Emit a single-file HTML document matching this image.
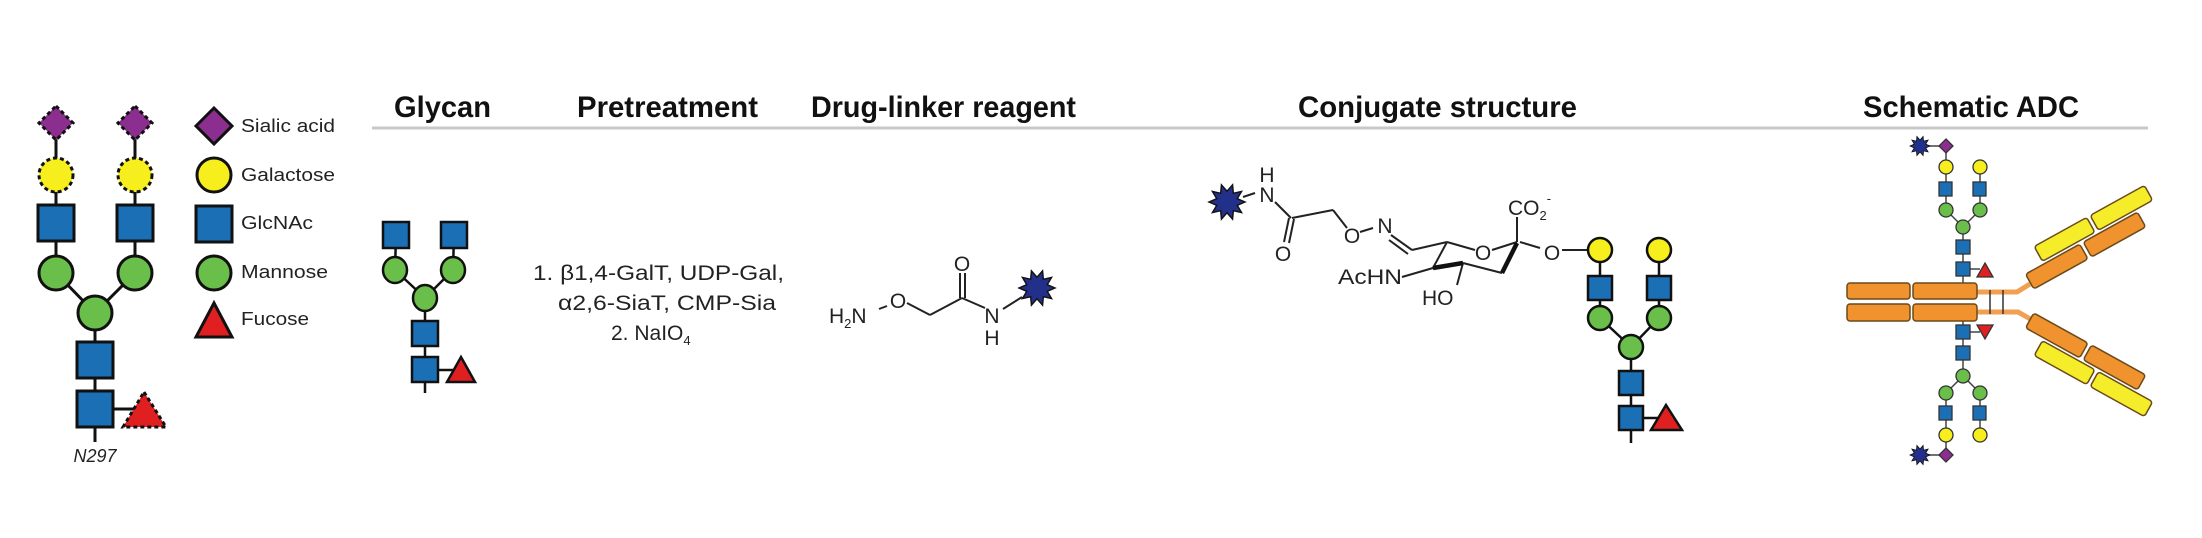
<!DOCTYPE html>
<html><head><meta charset="utf-8"><style>
html,body{margin:0;padding:0;background:#fff}
svg{display:block}
text{font-family:"Liberation Sans",sans-serif;fill:#222}
.h{font-weight:bold;font-size:30px;fill:#111}
.t{font-size:21px}
.lg{font-size:18px}
</style></head><body>
<svg width="2202" height="538" viewBox="0 0 2202 538" xmlns="http://www.w3.org/2000/svg">
<defs>
<polygon id="star" points="10,0 5.71,1.85 8.09,5.88 3.53,4.85 3.09,9.51 0,6 -3.09,9.51 -3.53,4.85 -8.09,5.88 -5.71,1.85 -10,0 -5.71,-1.85 -8.09,-5.88 -3.53,-4.85 -3.09,-9.51 0,-6 3.09,-9.51 3.53,-4.85 8.09,-5.88 5.71,-1.85" fill="#23308a" stroke="#111" stroke-width="0.8"/>
</defs>

<!-- headers -->
<line x1="372" y1="128" x2="2148" y2="128" stroke="#c8c8c8" stroke-width="3"/>
<text class="h" x="394" y="117" textLength="97" lengthAdjust="spacingAndGlyphs">Glycan</text>
<text class="h" x="577" y="117" textLength="181" lengthAdjust="spacingAndGlyphs">Pretreatment</text>
<text class="h" x="811" y="117" textLength="265" lengthAdjust="spacingAndGlyphs">Drug-linker reagent</text>
<text class="h" x="1298" y="117" textLength="279" lengthAdjust="spacingAndGlyphs">Conjugate structure</text>
<text class="h" x="1863" y="117" textLength="216" lengthAdjust="spacingAndGlyphs">Schematic ADC</text>

<!-- big glycan -->
<g stroke="#111" stroke-width="3">
<line x1="56" y1="123" x2="56" y2="273"/><line x1="135" y1="123" x2="135" y2="273"/>
<line x1="56" y1="273" x2="95" y2="313"/><line x1="135" y1="273" x2="95" y2="313"/>
<line x1="95" y1="313" x2="95" y2="442"/><line x1="95" y1="409" x2="140" y2="409"/>
<polygon points="56,106 73,123 56,140 39,123" fill="#8b2e8f" stroke-dasharray="4,3"/>
<polygon points="135,106 152,123 135,140 118,123" fill="#8b2e8f" stroke-dasharray="4,3"/>
<circle cx="56" cy="175" r="17" fill="#f7ee1e" stroke-dasharray="4,3"/>
<circle cx="135" cy="175" r="17" fill="#f7ee1e" stroke-dasharray="4,3"/>
<rect x="38" y="205" width="36" height="36" fill="#1a6fb5"/>
<rect x="117" y="205" width="36" height="36" fill="#1a6fb5"/>
<circle cx="56" cy="273" r="17" fill="#6abf4b"/><circle cx="135" cy="273" r="17" fill="#6abf4b"/>
<circle cx="95" cy="313" r="17" fill="#6abf4b"/>
<rect x="77" y="342" width="36" height="36" fill="#1a6fb5"/>
<rect x="77" y="391" width="36" height="36" fill="#1a6fb5"/>
<polygon points="144,392 166,427 123,427" fill="#e02020" stroke-dasharray="4,3"/>
</g>
<text x="95" y="462" font-size="18" font-style="italic" text-anchor="middle">N297</text>

<!-- legend -->
<g stroke="#111" stroke-width="3">
<polygon points="214,108 232,126 214,144 196,126" fill="#8b2e8f"/>
<circle cx="214" cy="175" r="17" fill="#f7ee1e"/>
<rect x="196" y="206" width="36" height="36" fill="#1a6fb5"/>
<circle cx="214" cy="273" r="17" fill="#6abf4b"/>
<polygon points="214,303 232,337 196,337" fill="#e02020"/>
</g>
<text class="lg" x="241" y="132" textLength="94" lengthAdjust="spacingAndGlyphs">Sialic acid</text>
<text class="lg" x="241" y="181" textLength="94" lengthAdjust="spacingAndGlyphs">Galactose</text>
<text class="lg" x="241" y="229" textLength="72" lengthAdjust="spacingAndGlyphs">GlcNAc</text>
<text class="lg" x="241" y="278" textLength="87" lengthAdjust="spacingAndGlyphs">Mannose</text>
<text class="lg" x="241" y="325" textLength="68" lengthAdjust="spacingAndGlyphs">Fucose</text>

<!-- small glycan col 2 -->
<g stroke="#111" stroke-width="2.5">
<line x1="396" y1="235" x2="395" y2="270"/><line x1="454" y1="235" x2="453" y2="270"/>
<line x1="395" y1="270" x2="425" y2="298"/><line x1="453" y1="270" x2="425" y2="298"/>
<line x1="425" y1="298" x2="425" y2="393"/><line x1="425" y1="370" x2="455" y2="370"/>
<rect x="383" y="222" width="26" height="26" fill="#1a6fb5"/>
<rect x="441" y="222" width="26" height="26" fill="#1a6fb5"/>
<ellipse cx="395" cy="270" rx="12" ry="13" fill="#6abf4b"/><ellipse cx="453" cy="270" rx="12" ry="13" fill="#6abf4b"/>
<ellipse cx="425" cy="298" rx="12" ry="13" fill="#6abf4b"/>
<rect x="412" y="321" width="26" height="25" fill="#1a6fb5"/>
<rect x="412" y="357" width="26" height="25" fill="#1a6fb5"/>
<polygon points="461,357 475,382 447,382" fill="#e02020"/>
</g>

<!-- pretreatment text -->
<text class="t" x="533" y="280" textLength="251" lengthAdjust="spacingAndGlyphs">1. β1,4-GalT, UDP-Gal,</text>
<text class="t" x="558" y="310" textLength="218" lengthAdjust="spacingAndGlyphs">α2,6-SiaT, CMP-Sia</text>
<text class="t" x="611" y="340">2. NaIO<tspan font-size="13" dy="5">4</tspan></text>

<!-- drug-linker -->
<g stroke="#222" stroke-width="2" fill="none">
<line x1="879" y1="309" x2="887" y2="306"/>
<line x1="907" y1="303" x2="930" y2="315"/>
<line x1="930" y1="315" x2="962" y2="298"/>
<line x1="960" y1="298" x2="960" y2="273"/><line x1="965" y1="298" x2="965" y2="273"/>
<line x1="962" y1="298" x2="985" y2="308"/>
<line x1="1003" y1="309" x2="1022" y2="297"/>
</g>
<text class="t" x="829" y="323">H<tspan font-size="13" dy="5">2</tspan><tspan dy="-5">N</tspan></text>
<text class="t" x="898" y="308" text-anchor="middle">O</text>
<text class="t" x="962" y="271" text-anchor="middle">O</text>
<text class="t" x="992" y="323" text-anchor="middle">N</text>
<text class="t" x="992" y="345" text-anchor="middle">H</text>
<use href="#star" transform="translate(1037,288) scale(1.8)"/>

<!-- conjugate structure -->
<use href="#star" transform="translate(1227,202) scale(1.8)"/>
<g stroke="#222" stroke-width="2" fill="none">
<line x1="1243" y1="197" x2="1255" y2="193"/>
<line x1="1275" y1="202" x2="1291" y2="218"/>
<line x1="1289" y1="218" x2="1284" y2="242"/><line x1="1294" y1="219" x2="1289" y2="243"/>
<line x1="1292" y1="218" x2="1333" y2="210"/>
<line x1="1333" y1="210" x2="1347" y2="228"/>
<line x1="1360" y1="232" x2="1373" y2="228"/>
<line x1="1391" y1="235" x2="1412" y2="250"/><line x1="1389" y1="240" x2="1408" y2="254"/>
<line x1="1412" y1="250" x2="1447" y2="242"/>
<line x1="1447" y1="242" x2="1475" y2="250"/>
<line x1="1492" y1="250" x2="1517" y2="242"/>
<line x1="1447" y1="242" x2="1433" y2="268"/>
<line x1="1402" y1="277" x2="1433" y2="268"/>
<line x1="1463" y1="263" x2="1457" y2="285"/>
<line x1="1502" y1="273" x2="1463" y2="263"/>
<line x1="1517" y1="242" x2="1517" y2="217"/>
<line x1="1520" y1="242" x2="1540" y2="248"/>
<line x1="1562" y1="250" x2="1588" y2="250"/>
</g>
<g stroke="#111" stroke-width="4.5" fill="none">
<line x1="1433" y1="268" x2="1463" y2="263"/>
<line x1="1502" y1="273" x2="1517" y2="243"/>
</g>
<text class="t" x="1267" y="202" text-anchor="middle">N</text>
<text class="t" x="1267" y="182" text-anchor="middle">H</text>
<text class="t" x="1283" y="261" text-anchor="middle">O</text>
<text class="t" x="1352" y="243" text-anchor="middle">O</text>
<text class="t" x="1385" y="233" text-anchor="middle">N</text>
<text class="t" x="1483" y="260" text-anchor="middle">O</text>
<text class="t" x="1338" y="284" textLength="64" lengthAdjust="spacingAndGlyphs">AcHN</text>
<text class="t" x="1422" y="305">HO</text>
<text class="t" x="1508" y="215">CO<tspan font-size="13" dy="5">2</tspan><tspan font-size="13" dy="-17">-</tspan></text>
<text class="t" x="1552" y="260" text-anchor="middle">O</text>
<g stroke="#111" stroke-width="2.5">
<line x1="1600" y1="250" x2="1600" y2="318"/><line x1="1659" y1="250" x2="1659" y2="318"/>
<line x1="1600" y1="318" x2="1631" y2="347"/><line x1="1659" y1="318" x2="1631" y2="347"/>
<line x1="1631" y1="347" x2="1631" y2="443"/><line x1="1631" y1="418" x2="1660" y2="418"/>
<circle cx="1600" cy="250" r="12" fill="#f7ee1e"/><circle cx="1659" cy="250" r="12" fill="#f7ee1e"/>
<rect x="1588" y="276" width="24" height="24" fill="#1a6fb5"/><rect x="1647" y="276" width="24" height="24" fill="#1a6fb5"/>
<circle cx="1600" cy="318" r="12" fill="#6abf4b"/><circle cx="1659" cy="318" r="12" fill="#6abf4b"/>
<circle cx="1631" cy="347" r="12" fill="#6abf4b"/>
<rect x="1619" y="371" width="24" height="24" fill="#1a6fb5"/>
<rect x="1619" y="406" width="24" height="24" fill="#1a6fb5"/>
<polygon points="1666,405 1682,430 1651,430" fill="#e02020"/>
</g>

<!-- Schematic ADC -->
<g stroke="#444" stroke-width="1.5">
<line x1="1920" y1="146" x2="1946" y2="146"/>
<line x1="1946" y1="146" x2="1946" y2="210"/><line x1="1980" y1="167" x2="1980" y2="210"/>
<line x1="1946" y1="210" x2="1963" y2="227"/><line x1="1980" y1="210" x2="1963" y2="227"/>
<line x1="1963" y1="227" x2="1963" y2="283"/><line x1="1963" y1="269" x2="1980" y2="269"/>
<line x1="1920" y1="455" x2="1946" y2="455"/>
<line x1="1946" y1="455" x2="1946" y2="393"/><line x1="1980" y1="435" x2="1980" y2="393"/>
<line x1="1946" y1="393" x2="1963" y2="376"/><line x1="1980" y1="393" x2="1963" y2="376"/>
<line x1="1963" y1="376" x2="1963" y2="321"/><line x1="1963" y1="332" x2="1980" y2="332"/>
</g>
<g stroke="#333" stroke-width="1.3">
<polygon points="1946,139 1953,146 1946,153 1939,146" fill="#8b2e8f"/>
<circle cx="1946" cy="167" r="7" fill="#f7ee1e"/><circle cx="1980" cy="167" r="7" fill="#f7ee1e"/>
<rect x="1939" y="182" width="13" height="14" fill="#1a6fb5"/><rect x="1973" y="182" width="13" height="14" fill="#1a6fb5"/>
<circle cx="1946" cy="210" r="7" fill="#6abf4b"/><circle cx="1980" cy="210" r="7" fill="#6abf4b"/>
<circle cx="1963" cy="227" r="7" fill="#6abf4b"/>
<rect x="1956" y="240" width="14" height="14" fill="#1a6fb5"/>
<rect x="1956" y="262" width="14" height="14" fill="#1a6fb5"/>
<polygon points="1985,263 1993,277 1977,277" fill="#e02020"/>
<polygon points="1946,448 1953,455 1946,462 1939,455" fill="#8b2e8f"/>
<circle cx="1946" cy="435" r="7" fill="#f7ee1e"/><circle cx="1980" cy="435" r="7" fill="#f7ee1e"/>
<rect x="1939" y="406" width="13" height="14" fill="#1a6fb5"/><rect x="1973" y="406" width="13" height="14" fill="#1a6fb5"/>
<circle cx="1946" cy="393" r="7" fill="#6abf4b"/><circle cx="1980" cy="393" r="7" fill="#6abf4b"/>
<circle cx="1963" cy="376" r="7" fill="#6abf4b"/>
<rect x="1956" y="346" width="14" height="14" fill="#1a6fb5"/>
<rect x="1956" y="325" width="14" height="14" fill="#1a6fb5"/>
<polygon points="1977,325 1993,325 1985,339" fill="#e02020"/>
</g>
<use href="#star" transform="translate(1920,146)"/>
<use href="#star" transform="translate(1920,455)"/>
<!-- hinge -->
<g stroke="#f0a050" stroke-width="5" fill="none">
<polyline points="1975,292 2017,292 2030,284"/>
<polyline points="1975,312 2018,312 2032,320"/>
</g>
<g stroke="#333" stroke-width="1.5">
<line x1="1990" y1="290" x2="1990" y2="314"/><line x1="2003" y1="290" x2="2003" y2="314"/>
</g>
<!-- Fc -->
<g stroke="#6b4a1a" stroke-width="1.5" fill="#f0932f">
<rect x="1847" y="283" width="63" height="16" rx="3"/>
<rect x="1913" y="283" width="64" height="16" rx="3"/>
<rect x="1847" y="304" width="63" height="17" rx="3"/>
<rect x="1913" y="304" width="64" height="17" rx="3"/>
</g>
<!-- Fab upper -->
<g transform="translate(2057,267) rotate(-29)" stroke="#6b4a1a" stroke-width="1.5">
<rect x="-10" y="-29" width="60" height="17" rx="3" fill="#f5ec2a"/>
<rect x="54" y="-29" width="62" height="17" rx="3" fill="#f5ec2a"/>
<rect x="-31" y="-9" width="62" height="17" rx="3" fill="#f0932f"/>
<rect x="35" y="-9" width="62" height="17" rx="3" fill="#f0932f"/>
</g>
<!-- Fab lower -->
<g transform="translate(2057,335) rotate(29)" stroke="#6b4a1a" stroke-width="1.5">
<rect x="-10" y="12" width="60" height="17" rx="3" fill="#f5ec2a"/>
<rect x="54" y="12" width="62" height="17" rx="3" fill="#f5ec2a"/>
<rect x="-31" y="-8" width="62" height="17" rx="3" fill="#f0932f"/>
<rect x="35" y="-8" width="62" height="17" rx="3" fill="#f0932f"/>
</g>
</svg>
</body></html>
